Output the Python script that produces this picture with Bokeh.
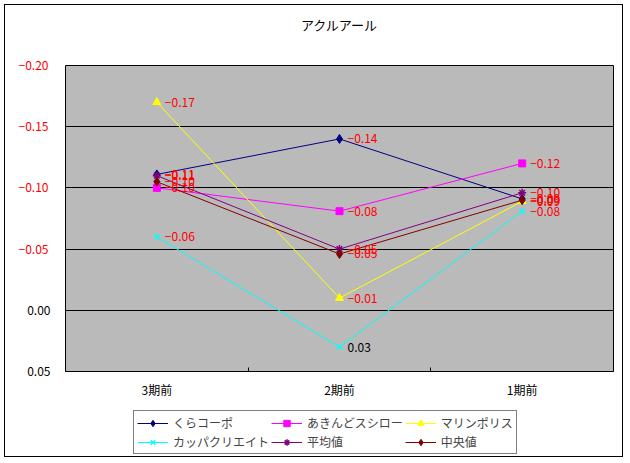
from bokeh.plotting import figure
from bokeh.layouts import column
from bokeh.models import (Range1d, FixedTicker, ColumnDataSource, LabelSet, Label, Legend,
                          LegendItem, LinearAxis, Grid)
from bokeh.core.properties import value
from bokeh.embed import file_html
from bokeh.resources import INLINE

chart_title = "アクルアール"
categories = ["3期前", "2期前", "1期前"]
series_names = ["くらコーポ", "あきんどスシロー", "マリンポリス", "カッパクリエイト", "平均値", "中央値"]
kura = [-0.111, -0.140, -0.091]
akindo = [-0.100, -0.081, -0.120]
marine = [-0.170, -0.010, -0.089]
kappa = [-0.060, 0.030, -0.081]
average = [-0.110, -0.050, -0.096]
median = [-0.105, -0.046, -0.090]
y_ticks = [-0.20, -0.15, -0.10, -0.05, 0.00, 0.05]

series_values = [kura, akindo, marine, kappa, average, median]
series_colors = ["#000080", "#ff00ff", "#ffff00", "#00ffff", "#800080", "#800000"]
series_markers = ["diamond", "square", "triangle", "x", "asterisk", "diamond"]
series_sizes = [9, 7, 8, 7, 8, 9]

FONT = "Noto Sans CJK JP"


def fmt(v):
    s = f"{abs(v):.2f}"
    return ("\u2212" + s) if v < 0 else s


def col(v):
    return "#ff0000" if v < 0 else "#000000"


def bare(fig):
    fig.grid.visible = False
    fig.outline_line_color = None
    fig.background_fill_color = "white"
    fig.border_fill_color = "white"


xs = [i + 0.5 for i in range(len(categories))]

# --- title strip ---
pt = figure(width=617, height=40, x_range=Range1d(0, 1), y_range=Range1d(0, 1),
            x_axis_location=None, y_axis_location=None, title=None,
            output_backend="svg", toolbar_location=None,
            min_border_left=0, min_border_right=0, min_border_top=0, min_border_bottom=0)
bare(pt)
pt.add_layout(Label(x=0.5, y=0.52, text=chart_title, text_align="center",
                    text_baseline="middle", text_font=FONT, text_font_size="13px",
                    text_color="black"))

# --- main chart ---
p = figure(width=617, height=357, title=None,
           x_range=Range1d(0, len(categories)),
           y_range=Range1d(y_ticks[-1], y_ticks[0]),
           y_axis_location=None,
           output_backend="svg", toolbar_location=None,
           min_border_left=60, min_border_right=9,
           min_border_top=20, min_border_bottom=31)

p.background_fill_color = "#bababa"
p.border_fill_color = "white"
p.outline_line_color = "black"
p.outline_line_width = 1

p.xgrid.visible = False
p.ygrid.visible = False

# y axes: inner one black (non-negative ticks), outer one red (negative ticks)
pos_ticks = [t for t in y_ticks if t >= 0]
neg_ticks = [t for t in y_ticks if t < 0]
for ticks, color, standoff in ((pos_ticks, "#000000", 15), (neg_ticks, "#ff0000", -24)):
    ax = LinearAxis(ticker=FixedTicker(ticks=ticks, minor_ticks=[]),
                    major_label_overrides={t: fmt(t) for t in ticks},
                    axis_line_color=None, major_tick_line_color=None,
                    minor_tick_line_color=None,
                    major_tick_in=0, major_tick_out=0, minor_tick_in=0, minor_tick_out=0,
                    major_label_standoff=standoff,
                    major_label_text_color=color,
                    major_label_text_font=FONT,
                    major_label_text_font_size="12px")
    p.add_layout(ax, "left")

p.add_layout(Grid(dimension=1, ticker=FixedTicker(ticks=y_ticks),
                  grid_line_color="black", grid_line_width=1))

p.xaxis.ticker = FixedTicker(ticks=xs, minor_ticks=list(range(1, len(categories))))
p.xaxis.major_label_overrides = {x: c for x, c in zip(xs, categories)}
p.xaxis.major_tick_in = 0
p.xaxis.major_tick_out = 0
p.xaxis.minor_tick_in = 4
p.xaxis.minor_tick_out = 0
p.xaxis.minor_tick_line_color = "black"
p.xaxis.axis_line_color = "black"
p.xaxis.major_label_standoff = 9
p.xaxis.major_label_text_font = FONT
p.xaxis.major_label_text_font_size = "12px"
p.xaxis.major_label_text_color = "black"

# --- legend strip (its ranges keep the sample glyphs out of view) ---
pl = figure(width=617, height=54, x_range=Range1d(-2, -1), y_range=Range1d(-2, -1),
            x_axis_location=None, y_axis_location=None, title=None,
            output_backend="svg", toolbar_location=None,
            min_border_left=0, min_border_right=0, min_border_top=0, min_border_bottom=0)
bare(pl)

items = []
for name, vals, c, m, s in zip(series_names, series_values, series_colors, series_markers, series_sizes):
    src = ColumnDataSource(dict(x=xs, y=vals, text=[fmt(v) for v in vals],
                                color=[col(v) for v in vals]))
    lw = 1.5 if m in ("x", "asterisk") else 1
    p.line("x", "y", source=src, line_color=c, line_width=1)
    p.scatter("x", "y", source=src, marker=m, size=s, fill_color=c, line_color=c, line_width=lw)
    p.add_layout(LabelSet(source=src, x="x", y="y", text="text", text_color="color",
                          x_offset=8, text_align="left", text_baseline="middle",
                          text_font=value(FONT), text_font_size="12px"))
    lr = pl.line("x", "y", source=src, line_color=c, line_width=1)
    sr = pl.scatter("x", "y", source=src, marker=m, size=s, fill_color=c, line_color=c, line_width=lw)
    items.append(LegendItem(label=name, renderers=[lr, sr]))

legend = Legend(items=items, location=(68, 2), orientation="horizontal", ncols=3,
                margin=0, padding=3, spacing=2,
                glyph_width=31, glyph_height=16, label_height=10, label_standoff=5,
                label_text_font=FONT, label_text_font_size="12px",
                border_line_color="black", border_line_width=1,
                background_fill_color="white", background_fill_alpha=1.0)
pl.add_layout(legend, "center")

layout = column(pt, p, pl, spacing=0, styles={"border": "1px solid black", "margin": "4px"})

open("out.html", "w").write(file_html(layout, INLINE))
